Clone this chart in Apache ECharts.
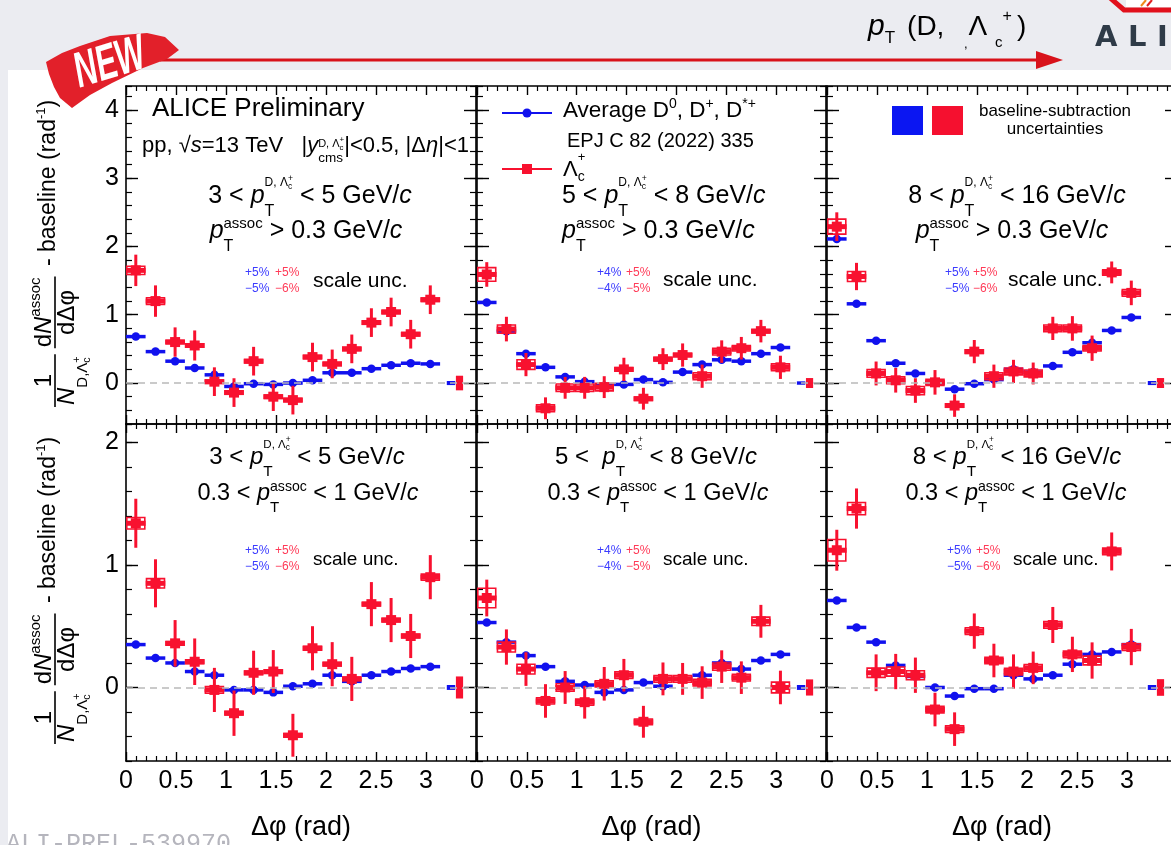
<!DOCTYPE html>
<html>
<head>
<meta charset="utf-8">
<title>D and Lambda_c azimuthal correlations, pp 13 TeV</title>
<script src="https://cdn.jsdelivr.net/npm/echarts@6.0.0/dist/echarts.min.js"></script>
<style>
  html, body { margin: 0; padding: 0; background: #ffffff; }
  #chart { width: 1171px; height: 845px; }
</style>
</head>
<body>
<div id="chart"></div>
<script>
const FONT = '"Liberation Sans", Arial, Helvetica, sans-serif';
const RED = '#f8112f';
const BLUE = '#1111ee';
const GRAY_BG = '#ebecf1';

// Δφ bin centres (rad): 16 bins over [0, π]
const dPhi = [0.098, 0.295, 0.491, 0.687, 0.884, 1.080, 1.276, 1.473, 1.669, 1.865, 2.062, 2.258, 2.454, 2.651, 2.847, 3.043];
const BIN_HALF = 0.098;
const BOX_HALF = 0.09;

// ---- p_T^assoc > 0.3 GeV/c ----
const avgD_3to5   = [0.68, 0.46, 0.32, 0.22, 0.12, -0.05, -0.01, -0.02, 0.00, 0.04, 0.15, 0.15, 0.21, 0.26, 0.29, 0.28];
const lc_3to5     = [1.65, 1.20, 0.60, 0.55, 0.02, -0.14, 0.32, -0.20, -0.25, 0.38, 0.28, 0.50, 0.885, 1.04, 0.715, 1.22];
const lcStat_3to5 = [0.23, 0.23, 0.215, 0.22, 0.21, 0.21, 0.21, 0.21, 0.21, 0.21, 0.21, 0.21, 0.21, 0.21, 0.21, 0.21];
const lcSyst_3to5 = [0.06, 0.05, 0.025, 0.025, 0.025, 0.025, 0.025, 0.025, 0.025, 0.025, 0.025, 0.025, 0.025, 0.025, 0.025, 0.025];

const avgD_5to8   = [1.18, 0.76, 0.43, 0.23, 0.09, 0.02, -0.04, -0.02, 0.05, 0.01, 0.16, 0.27, 0.34, 0.32, 0.43, 0.52];
const lc_5to8     = [1.59, 0.79, 0.27, -0.37, -0.07, -0.07, -0.06, 0.20, -0.23, 0.35, 0.41, 0.10, 0.46, 0.51, 0.76, 0.23];
const lcStat_5to8 = [0.18, 0.18, 0.17, 0.16, 0.16, 0.16, 0.16, 0.17, 0.16, 0.16, 0.17, 0.17, 0.165, 0.165, 0.165, 0.17];
const lcSyst_5to8 = [0.10, 0.06, 0.07, 0.05, 0.055, 0.055, 0.055, 0.025, 0.025, 0.025, 0.025, 0.05, 0.05, 0.04, 0.025, 0.05];

const avgD_8to16   = [2.11, 1.16, 0.62, 0.29, 0.14, 0.00, -0.09, -0.01, 0.05, 0.20, 0.16, 0.25, 0.45, 0.59, 0.77, 0.96];
const lc_8to16     = [2.29, 1.56, 0.14, 0.04, -0.11, 0.01, -0.33, 0.46, 0.10, 0.17, 0.14, 0.80, 0.80, 0.51, 1.62, 1.32];
const lcStat_8to16 = [0.21, 0.20, 0.175, 0.18, 0.18, 0.18, 0.165, 0.17, 0.17, 0.17, 0.16, 0.17, 0.18, 0.185, 0.16, 0.18];
const lcSyst_8to16 = [0.11, 0.073, 0.056, 0.05, 0.06, 0.045, 0.025, 0.025, 0.05, 0.05, 0.05, 0.05, 0.05, 0.04, 0.04, 0.05];

// ---- 0.3 < p_T^assoc < 1 GeV/c ----
const avgD_3to5_low   = [0.35, 0.24, 0.20, 0.13, 0.10, -0.02, -0.02, -0.04, 0.01, 0.03, 0.10, 0.05, 0.10, 0.13, 0.155, 0.17];
const lc_3to5_low     = [1.34, 0.85, 0.36, 0.21, -0.02, -0.21, 0.12, 0.13, -0.39, 0.32, 0.19, 0.07, 0.68, 0.55, 0.42, 0.90];
const lcStat_3to5_low = [0.20, 0.196, 0.19, 0.19, 0.18, 0.185, 0.18, 0.175, 0.175, 0.18, 0.18, 0.18, 0.18, 0.18, 0.18, 0.18];
const lcSyst_3to5_low = [0.047, 0.038, 0.015, 0.015, 0.027, 0.015, 0.015, 0.015, 0.015, 0.015, 0.015, 0.015, 0.015, 0.015, 0.015, 0.025];

const avgD_5to8_low   = [0.53, 0.37, 0.26, 0.17, 0.05, 0.02, -0.04, -0.02, 0.04, 0.01, 0.07, 0.10, 0.20, 0.15, 0.22, 0.27];
const lc_5to8_low     = [0.73, 0.33, 0.15, -0.11, 0.00, -0.12, 0.03, 0.10, -0.28, 0.07, 0.07, 0.04, 0.17, 0.08, 0.54, 0.00];
const lcStat_5to8_low = [0.15, 0.144, 0.137, 0.137, 0.134, 0.134, 0.137, 0.133, 0.13, 0.134, 0.13, 0.133, 0.133, 0.133, 0.134, 0.137];
const lcSyst_5to8_low = [0.08, 0.04, 0.04, 0.025, 0.03, 0.025, 0.025, 0.027, 0.023, 0.027, 0.027, 0.027, 0.03, 0.027, 0.034, 0.044];

const avgD_8to16_low   = [0.71, 0.49, 0.37, 0.18, 0.09, 0.00, -0.07, -0.01, -0.01, 0.10, 0.07, 0.10, 0.19, 0.27, 0.29, 0.35];
const lc_8to16_low     = [1.12, 1.46, 0.12, 0.13, 0.10, -0.18, -0.34, 0.46, 0.22, 0.13, 0.16, 0.51, 0.27, 0.22, 1.11, 0.33];
const lcStat_8to16_low = [0.167, 0.164, 0.15, 0.144, 0.144, 0.137, 0.137, 0.144, 0.137, 0.14, 0.133, 0.147, 0.144, 0.148, 0.155, 0.148];
const lcSyst_8to16_low = [0.088, 0.05, 0.038, 0.037, 0.037, 0.027, 0.027, 0.027, 0.027, 0.027, 0.027, 0.027, 0.027, 0.036, 0.027, 0.027];

// baseline-subtraction uncertainties, panel order: top row L→R, bottom row L→R
const baseUncAvgD = [0.03, 0.025, 0.03, 0.02, 0.02, 0.02];
const baseUncLc   = [0.107, 0.073, 0.073, 0.09, 0.066, 0.068];
const BASE_X_AVGD = 3.25;
const BASE_X_LC = 3.335;

const yTicksTop = [0, 1, 2, 3, 4];
const yTicksBottom = [0, 1, 2];

const panels = [
  { avg: avgD_3to5, lc: lc_3to5, stat: lcStat_3to5, syst: lcSyst_3to5, box: { left: 126, top: 86, width: 350, height: 338 }, yRange: [-0.6, 4.35], yTicks: yTicksTop, first: true, low: false },
  { avg: avgD_5to8, lc: lc_5to8, stat: lcStat_5to8, syst: lcSyst_5to8, box: { left: 477, top: 86, width: 349, height: 338 }, yRange: [-0.6, 4.35], yTicks: yTicksTop, first: false, low: false },
  { avg: avgD_8to16, lc: lc_8to16, stat: lcStat_8to16, syst: lcSyst_8to16, box: { left: 827, top: 86, width: 350, height: 338 }, yRange: [-0.6, 4.35], yTicks: yTicksTop, first: false, low: false },
  { avg: avgD_3to5_low, lc: lc_3to5_low, stat: lcStat_3to5_low, syst: lcSyst_3to5_low, box: { left: 126, top: 424, width: 350, height: 337 }, yRange: [-0.6, 2.15], yTicks: yTicksBottom, first: true, low: true },
  { avg: avgD_5to8_low, lc: lc_5to8_low, stat: lcStat_5to8_low, syst: lcSyst_5to8_low, box: { left: 477, top: 424, width: 349, height: 337 }, yRange: [-0.6, 2.15], yTicks: yTicksBottom, first: false, low: true },
  { avg: avgD_8to16_low, lc: lc_8to16_low, stat: lcStat_8to16_low, syst: lcSyst_8to16_low, box: { left: 827, top: 424, width: 350, height: 337 }, yRange: [-0.6, 2.15], yTicks: yTicksBottom, first: false, low: true }
];

// ---------- marks ----------
function avgBar(params, api) {
  const x = api.value(0), y = api.value(1);
  const a = api.coord([x - BIN_HALF, y]), b = api.coord([x + BIN_HALF, y]);
  return { type: 'line', shape: { x1: a[0], y1: a[1], x2: b[0], y2: b[1] }, style: { stroke: BLUE, lineWidth: 3.5 } };
}
function lcBars(params, api) {
  const x = api.value(0), y = api.value(1), st = api.value(2), sy = api.value(3);
  const l = api.coord([x - BIN_HALF, y]), r = api.coord([x + BIN_HALF, y]);
  const t = api.coord([x, y + st]), d = api.coord([x, y - st]);
  const b1 = api.coord([x - BOX_HALF, y + sy]), b2 = api.coord([x + BOX_HALF, y - sy]);
  return { type: 'group', children: [
    { type: 'rect', shape: { x: b1[0], y: b1[1], width: b2[0] - b1[0], height: b2[1] - b1[1] }, style: { fill: 'transparent', stroke: RED, lineWidth: 1.6 } },
    { type: 'line', shape: { x1: l[0], y1: l[1], x2: r[0], y2: r[1] }, style: { stroke: RED, lineWidth: 5 } },
    { type: 'line', shape: { x1: t[0], y1: t[1], x2: d[0], y2: d[1] }, style: { stroke: RED, lineWidth: 3 } }
  ] };
}
function baseBox(params, api) {
  const isLc = api.value(3) === 1;
  const x = api.value(0), h = api.value(2), hw = isLc ? 0.036 : 0.042;
  const a = api.coord([x - hw, h]), b = api.coord([x + hw, -h]);
  return { type: 'rect', shape: { x: a[0], y: a[1], width: b[0] - a[0], height: b[1] - a[1] }, style: { fill: isLc ? RED : BLUE } };
}

const grids = [], xAxes = [], yAxes = [], series = [];
const lineBlack = { color: '#000', width: 1.6 };

panels.forEach((p, g) => {
  grids.push(Object.assign({ outerBoundsMode: 'none', containLabel: false }, p.box));
  const xBase = {
    gridIndex: g, type: 'value', min: 0, max: 3.5, interval: 0.5,
    axisLine: { show: true, onZero: false, lineStyle: lineBlack },
    axisTick: { show: true, inside: true, length: 9, lineStyle: { color: '#000', width: 1.4 } },
    minorTick: { show: true, splitNumber: 5, length: 5, lineStyle: { color: '#000', width: 1.2 } },
    splitLine: { show: false }, minorSplitLine: { show: false }
  };
  xAxes.push(Object.assign({}, xBase, {
    position: 'bottom',
    axisLabel: { show: p.low, margin: 8, fontSize: 25, fontFamily: FONT, color: '#000', formatter: v => (v > 3.2 ? '' : String(v)) },
    name: p.low ? 'Δφ (rad)' : '', nameLocation: 'middle', nameGap: 53,
    nameTextStyle: { fontSize: 27, fontFamily: FONT, color: '#000' }
  }));
  xAxes.push(Object.assign({}, xBase, { position: 'top', axisLabel: { show: false } }));

  ['left', 'right'].forEach(side => {
    yAxes.push({
      gridIndex: g, type: 'value', position: side, min: p.yRange[0], max: p.yRange[1],
      axisLine: { show: true, onZero: false, lineStyle: lineBlack },
      axisTick: { show: true, inside: true, length: 12, customValues: p.yTicks, lineStyle: { color: '#000', width: 1.4 } },
      axisLabel: { show: side === 'left' && p.first, customValues: p.yTicks, margin: 7, fontSize: 25, fontFamily: FONT, color: '#000' },
      splitLine: { show: false }
    });
    yAxes.push({
      gridIndex: g, type: 'value', position: side, min: p.yRange[0], max: p.yRange[1], interval: 0.2,
      axisLine: { show: false, onZero: false },
      axisTick: { show: true, inside: true, length: 6, lineStyle: { color: '#000', width: 1.2 } },
      axisLabel: { show: false }, splitLine: { show: false }
    });
  });

  const xi = 2 * g, yi = 4 * g;
  const avgPts = dPhi.map((x, i) => [x, p.avg[i]]);
  const lcPts = dPhi.map((x, i) => [x, p.lc[i]]);
  series.push({
    type: 'scatter', xAxisIndex: xi, yAxisIndex: yi, data: [], silent: true, z: 1,
    markLine: { silent: true, symbol: 'none', animation: false, label: { show: false },
      lineStyle: { color: '#b9b9b9', type: [7, 5], width: 1.5 }, data: [{ yAxis: 0 }] }
  });
  series.push({ type: 'custom', xAxisIndex: xi, yAxisIndex: yi, z: 2, silent: true, renderItem: avgBar, data: avgPts });
  series.push({ type: 'scatter', xAxisIndex: xi, yAxisIndex: yi, z: 3, silent: true, symbol: 'circle', symbolSize: 8.5, itemStyle: { color: BLUE, opacity: 1 }, data: avgPts });
  series.push({ type: 'custom', xAxisIndex: xi, yAxisIndex: yi, z: 4, silent: true, renderItem: lcBars,
    data: dPhi.map((x, i) => [x, p.lc[i], p.stat[i], p.syst[i]]) });
  series.push({ type: 'scatter', xAxisIndex: xi, yAxisIndex: yi, z: 5, silent: true, symbol: 'rect', symbolSize: 10, itemStyle: { color: RED, opacity: 1 }, data: lcPts });
  series.push({ type: 'custom', xAxisIndex: xi, yAxisIndex: yi, z: 4, silent: true, renderItem: baseBox,
    data: [[BASE_X_AVGD, 0, baseUncAvgD[g], 0], [BASE_X_LC, 0, baseUncLc[g], 1]] });
});

// ---------- text helpers ----------
const mctx = document.createElement('canvas').getContext('2d');
function cssFont(s) { return (s.it ? 'italic ' : '') + (s.b ? 'bold ' : '') + s.size + 'px ' + (s.fam || FONT); }
function segW(s) {
  if (s.stack) return Math.max(runW(s.stack[0]), runW(s.stack[1]));
  let w = s.kern || 0;
  if (s.t) { mctx.font = cssFont(s); w += mctx.measureText(s.t).width; }
  return w;
}
function runW(run) { return run.reduce((a, s) => a + segW(s), 0); }
function runEls(run, x, base, fill, align) {
  const w = runW(run);
  let cx = align === 'center' ? x - w / 2 : align === 'right' ? x - w : x;
  const out = [];
  for (const s of run) {
    if (s.stack) {
      out.push(...runEls(s.stack[0], cx, base, fill, 'left'));
      out.push(...runEls(s.stack[1], cx, base, fill, 'left'));
    } else if (s.t) {
      out.push({ type: 'text', x: cx, y: base + (s.dy || 0) - 0.33 * s.size, silent: true,
        style: { text: s.t, fontSize: s.size, fontFamily: s.fam || FONT, fontStyle: s.it ? 'italic' : 'normal',
          fontWeight: s.b ? 'bold' : 'normal', fill: s.c || fill, align: 'left', verticalAlign: 'middle' } });
    }
    cx += segW(s);
  }
  return out;
}
const T = (t, size, o) => Object.assign({ t, size }, o || {});
const K = w => ({ t: '', size: 0, kern: w });
// "D, Λc+" label with sub/superscript on Λ
function dLc(size, dy, spaced) {
  return [T(spaced ? 'D, Λ' : 'D,Λ', size, { dy }),
    { stack: [[T('+', size * 0.72, { dy: dy - size * 0.5 })], [T('c', size * 0.72, { dy: dy + size * 0.18 })]] }];
}
function ptTrig(S) {
  return [T('p', S, { it: true }), { stack: [dLc(0.48 * S, -0.68 * S, true), [T('T', 0.64 * S, { dy: 0.5 * S })]] }];
}
function ptAssoc(S) {
  return [T('p', S, { it: true }), { stack: [[T('assoc', 0.6 * S, { dy: -0.4 * S })], [T('T', 0.64 * S, { dy: 0.5 * S })]] }];
}
const cIt = S => T('c', S, { it: true });
function line1(lo, hi, S, gap) { return [T(lo + ' <' + (gap ? '  ' : ' '), S), ...ptTrig(S), T(' < ' + hi + ' GeV/', S), cIt(S)]; }
function line2hi(S) { return [...ptAssoc(S), T(' > 0.3 GeV/', S), cIt(S)]; }
function line2lo(S) { return [T('0.3 < ', S), ...ptAssoc(S), T(' < 1 GeV/', S), cIt(S)]; }
function mid(text, x, y, size, fill, o) {
  return Object.assign({ type: 'text', x, y, silent: true,
    style: { text, fontSize: size, fontFamily: FONT, fill: fill || '#000', align: 'left', verticalAlign: 'middle' } }, o || {});
}

const graphics = [];
const G = el => graphics.push(el);
const addRun = (run, x, base, fill, align) => runEls(run, x, base, fill || '#000', align).forEach(G);

// page header band and left margin
G({ type: 'rect', silent: true, shape: { x: 0, y: 0, width: 1171, height: 70 }, style: { fill: GRAY_BG } });
G({ type: 'rect', silent: true, shape: { x: 0, y: 70, width: 8, height: 775 }, style: { fill: GRAY_BG } });

// vertical axis titles
function yTitle(ox, oy) {
  const S = 24, kids = [];
  const num1 = [T('1', S)];
  const den1 = [T('N', S, { it: true }), ...dLc(15, 13, false)];
  const w1 = Math.max(runW(num1), runW(den1)) + 4;
  kids.push(...runEls(num1, w1 / 2, -3, '#000', 'center'));
  kids.push(...runEls(den1, w1 / 2, 20, '#000', 'center'));
  kids.push({ type: 'line', silent: true, shape: { x1: 0, y1: 0, x2: w1, y2: 0 }, style: { stroke: '#000', lineWidth: 1.6 } });
  const x0 = w1 + 6;
  const num2 = [T('d', S), T('N', S, { it: true }), T('assoc', 15, { dy: -11 })];
  const den2 = [T('dΔφ', S)];
  const w2 = Math.max(runW(num2), runW(den2)) + 2;
  kids.push(...runEls(num2, x0 + w2 / 2, -3, '#000', 'center'));
  kids.push(...runEls(den2, x0 + w2 / 2, 20, '#000', 'center'));
  kids.push({ type: 'line', silent: true, shape: { x1: x0, y1: 0, x2: x0 + w2, y2: 0 }, style: { stroke: '#000', lineWidth: 1.6 } });
  kids.push(...runEls([T(' - baseline (rad', 23), T('-1', 13, { dy: -10 }), T(')', 23)], x0 + w2 + 4, 1, '#000', 'left'));
  G({ type: 'group', x: ox, y: oy, rotation: Math.PI / 2, children: kids });
}
yTitle(55, 407);
yTitle(55, 744);

// top-left panel labels
addRun([T('ALICE Preliminary', 26)], 152, 117);
addRun([T('pp, √', 22), T('s', 22, { it: true }), T('=13 TeV   |', 22), T('y', 22, { it: true }),
  { stack: [dLc(11, -5, true), [T('cms', 13.5, { dy: 10 })]] }, T('|<0.5, |Δ', 22), T('η', 22, { it: true }), T('|<1', 22)], 142, 153);
addRun(line1('3', '5', 25), 310, 204, null, 'center');
addRun(line2hi(25), 306, 239, null, 'center');

// top-middle: legend and labels
G({ type: 'line', silent: true, shape: { x1: 502, y1: 113, x2: 552, y2: 113 }, style: { stroke: BLUE, lineWidth: 2 } });
G({ type: 'circle', silent: true, shape: { cx: 527, cy: 113, r: 4.5 }, style: { fill: BLUE } });
addRun([T('Average D', 22.5), T('0', 14, { dy: -9.5 }), T(', D', 22.5), T('+', 14, { dy: -9.5 }), T(', D', 22.5), T('*+', 14, { dy: -9.5 })], 563, 118);
addRun([T('EPJ C 82 (2022) 335', 20)], 567, 148);
G({ type: 'line', silent: true, shape: { x1: 502, y1: 169, x2: 552, y2: 169 }, style: { stroke: RED, lineWidth: 2 } });
G({ type: 'rect', silent: true, shape: { x: 522, y: 164, width: 10, height: 10 }, style: { fill: RED } });
addRun([T('Λ', 22), { stack: [[T('+', 13, { dy: -15 })], [T('c', 14, { dy: 5 })]] }], 563, 177);
addRun(line1('5', '8', 25), 562, 204, null, 'left');
addRun(line2hi(25), 562, 239, null, 'left');

// top-right: baseline-uncertainty legend and labels
G({ type: 'rect', silent: true, shape: { x: 892, y: 106, width: 31, height: 29 }, style: { fill: '#0b16f2' } });
G({ type: 'rect', silent: true, shape: { x: 932, y: 106, width: 31, height: 29 }, style: { fill: '#f5102f' } });
addRun([T('baseline-subtraction', 17)], 1055, 117, null, 'center');
addRun([T('uncertainties', 17)], 1055, 135, null, 'center');
addRun(line1('8', '16', 25), 1017, 204, null, 'center');
addRun(line2hi(25), 1012, 239, null, 'center');

// bottom row labels
addRun(line1('3', '5', 24), 307, 465, null, 'center');
addRun(line2lo(23.5), 308, 501, null, 'center');
addRun(line1('5', '8', 24, true), 656, 465, null, 'center');
addRun(line2lo(23.5), 658, 501, null, 'center');
addRun(line1('8', '16', 24), 1017, 465, null, 'center');
addRun(line2lo(23.5), 1016, 501, null, 'center');

// scale uncertainties
const SB = '#3b3bff', SR = '#ff3a57';
function scaleUnc(bx, rx, y1, y2, tx, ty, ts, labels) {
  G(mid(labels[0], bx, y1, 12, SB)); G(mid(labels[1], bx, y2, 12, SB));
  G(mid(labels[2], rx, y1, 12, SR)); G(mid(labels[3], rx, y2, 12, SR));
  G(mid('scale unc.', tx, ty, ts));
}
scaleUnc(245, 275, 273, 289, 313, 281, 21, ['+5%', '−5%', '+5%', '−6%']);
scaleUnc(597, 626, 273, 289, 663, 280, 21, ['+4%', '−4%', '+5%', '−5%']);
scaleUnc(945, 973, 273, 289, 1008, 280, 21, ['+5%', '−5%', '+5%', '−6%']);
scaleUnc(245, 275, 551, 567, 313, 560, 19, ['+5%', '−5%', '+5%', '−6%']);
scaleUnc(597, 626, 551, 567, 663, 560, 19, ['+4%', '−4%', '+5%', '−5%']);
scaleUnc(947, 976, 551, 567, 1013, 560, 19, ['+5%', '−5%', '+5%', '−6%']);

// header: trigger-pT arrow
G({ type: 'line', silent: true, shape: { x1: 160, y1: 60, x2: 1040, y2: 60 }, style: { stroke: '#d8121b', lineWidth: 3 } });
G({ type: 'polygon', silent: true, shape: { points: [[1036, 51], [1063, 60], [1036, 69]] }, style: { fill: '#d8121b' } });
addRun([T('p', 30, { it: true }), T('T', 17, { dy: 7 }), K(12), T('(D,', 28), K(24), T('Λ', 28), K(8),
  T('c', 15, { dy: 11 }), T('+', 16, { dy: -15 }), K(5), T(')', 28)], 868, 37);
G(mid(',', 964, 44, 13));

// logo corner
G({ type: 'polyline', silent: true, shape: { points: [[1108, -4], [1124, 10], [1176, 10]] }, style: { stroke: '#e1101c', lineWidth: 5, fill: null } });
G({ type: 'rect', silent: true, shape: { x: 1126, y: 0, width: 50, height: 7 }, style: { fill: '#ffffff' } });
G({ type: 'line', silent: true, shape: { x1: 1141, y1: 6, x2: 1146, y2: 0 }, style: { stroke: '#f08a1a', lineWidth: 2 } });
G({ type: 'line', silent: true, shape: { x1: 1147, y1: 6, x2: 1152, y2: 0 }, style: { stroke: '#e02020', lineWidth: 2 } });
['A', 'L', 'I'].forEach((ch, i) => G({ type: 'text', x: [1095, 1128, 1157][i], y: 38, silent: true,
  style: { text: ch, fontSize: 29, fontFamily: '"DejaVu Sans", sans-serif', fontWeight: 'bold', fill: '#2f3b48', align: 'left', verticalAlign: 'middle' } }));

// "NEW" badge
G({ type: 'polygon', silent: true, shape: { points: [[46, 62], [62, 53], [80, 46], [110, 36], [147, 33], [165, 37], [179, 50], [167, 59], [143, 68], [112, 83], [90, 95], [72, 108], [60, 98], [54, 87], [49, 74]] }, style: { fill: '#e2202a' } });
G({ type: 'text', x: 110, y: 64, rotation: 0.3, scaleX: 0.62, silent: true,
  style: { text: 'NEW', fontSize: 50, fontStyle: 'italic', fontWeight: 'bold', fontFamily: FONT, fill: '#ffffff', align: 'center', verticalAlign: 'middle' } });

// figure id
G({ type: 'text', x: 6, y: 832, silent: true,
  style: { text: 'ALI-PREL-539970', fontSize: 25, fontFamily: '"Liberation Mono", "DejaVu Sans Mono", monospace', fill: '#b5b5bd', align: 'left', verticalAlign: 'top' } });

const chart = echarts.init(document.getElementById('chart'), null, { renderer: 'canvas' });
chart.setOption({
  animation: false,
  backgroundColor: '#ffffff',
  grid: grids,
  xAxis: xAxes,
  yAxis: yAxes,
  series: series,
  graphic: { elements: graphics }
});
</script>
</body>
</html>
